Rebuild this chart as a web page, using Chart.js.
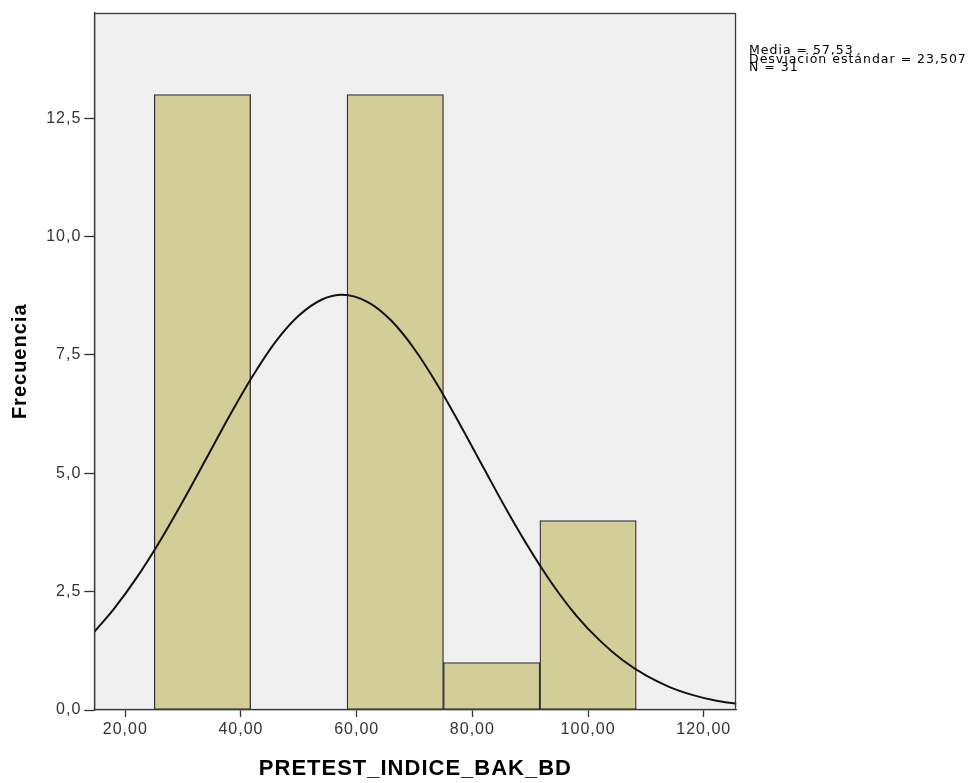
<!DOCTYPE html>
<html>
<head>
<meta charset="utf-8">
<script src="https://cdn.jsdelivr.net/npm/chart.js@4.4.1/dist/chart.umd.min.js"></script>
<style>
  html, body { margin: 0; padding: 0; background: #ffffff; }
  #wrap { position: relative; width: 976px; height: 783px; }
  #stats {
    position: absolute; left: 749px; top: 46px;
    font-family: "DejaVu Sans", sans-serif; font-size: 12.5px;
    line-height: 8.7px; letter-spacing: 1px; color: #000; white-space: pre;
  }
</style>
</head>
<body>
<div id="wrap">
  <canvas id="c" width="976" height="783"></canvas>
  <div id="stats"></div>
</div>
<script>
// ---- data ----
const binEdges = [25, 41.67, 58.33, 75, 91.67, 108.33];
const binCounts = [13, 0, 13, 1, 4];
const curveX = [14.64, 18, 22, 26, 30, 34, 38, 42, 46, 50, 54, 57.5, 62, 66, 70, 74, 78, 82, 86, 90, 94, 98, 102, 106, 110, 114, 118, 122, 125.66];
const curveY = [1.65, 2.13, 2.80, 3.57, 4.42, 5.31, 6.21, 7.05, 7.78, 8.33, 8.67, 8.77, 8.61, 8.22, 7.62, 6.86, 6.00, 5.10, 4.21, 3.38, 2.63, 1.99, 1.47, 1.05, 0.73, 0.49, 0.32, 0.20, 0.13];
const xTickValues = [20, 40, 60, 80, 100, 120];
const yTickValues = [0, 2.5, 5, 7.5, 10, 12.5];
const statsLines = ["Media = 57,53", "Desviación estándar = 23,507", "N = 31"];
const xTitle = "PRETEST_INDICE_BAK_BD";
const yTitle = "Frecuencia";

document.getElementById('stats').textContent = statsLines.join('\n');

const barData = binCounts.map((c, i) => ({ x: (binEdges[i] + binEdges[i + 1]) / 2, y: c }));
const lineData = curveX.map((x, i) => ({ x: x, y: curveY[i] }));

const frame = {
  id: 'frame',
  beforeUpdate(chart) { chart.ctx.letterSpacing = '1px'; },
  beforeDraw(chart) {
    const { ctx, chartArea: a } = chart;
    ctx.letterSpacing = '1px';
    ctx.save();
    ctx.fillStyle = '#f0f0f0';
    ctx.fillRect(a.left, a.top, a.right - a.left, a.bottom - a.top);
    ctx.restore();
  },
  afterDraw(chart) {
    const { ctx, chartArea: a } = chart;
    ctx.save();
    ctx.strokeStyle = '#3c3c3c';
    ctx.lineWidth = 1.3;
    ctx.strokeRect(Math.round(a.left) + 0.5, Math.round(a.top) + 0.5,
                   Math.round(a.right - a.left) - 1, Math.round(a.bottom - a.top) - 1);
    ctx.restore();
  }
};

const fmt = (v, d) => v.toFixed(d).replace('.', ',');

new Chart(document.getElementById('c'), {
  data: {
    datasets: [
      {
        type: 'line', data: lineData, order: 0,
        borderColor: '#111111', borderWidth: 2, pointRadius: 0,
        cubicInterpolationMode: 'monotone', fill: false
      },
      {
        type: 'bar', data: barData, order: 1,
        backgroundColor: '#d3ce98', borderColor: '#2e2e2e', borderWidth: 1.3,
        borderSkipped: false, barPercentage: 1, categoryPercentage: 1
      }
    ]
  },
  options: {
    responsive: false, animation: false,
    layout: { padding: { left: 0, right: 239.5, top: 11.5, bottom: 0 } },
    plugins: { legend: { display: false }, tooltip: { enabled: false } },
    scales: {
      x: {
        type: 'linear', min: 14.64, max: 125.66, offset: false,
        afterBuildTicks: s => { s.ticks = xTickValues.map(v => ({ value: v })); },
        afterFit: s => { s.height = 73; },
        ticks: { callback: v => fmt(v, 2), color: '#333333', padding: 3,
                 font: { family: 'Liberation Sans', size: 16 } },
        grid: { offset: false, drawOnChartArea: false, drawTicks: true, tickLength: 7,
                tickColor: '#333333', tickWidth: 1.3 },
        border: { display: true, color: '#3c3c3c', width: 1.3 },
        title: { display: true, text: xTitle, color: '#000000', padding: { top: 0, bottom: 1 },
                 font: { family: 'Liberation Sans', size: 22, weight: 'bold' } }
      },
      y: {
        type: 'linear', min: 0, max: 14.73,
        afterBuildTicks: s => { s.ticks = yTickValues.map(v => ({ value: v })); },
        afterFit: s => { s.width = 94.3; },
        ticks: { callback: v => fmt(v, 1), color: '#333333', padding: 3,
                 font: { family: 'Liberation Sans', size: 16 } },
        grid: { drawOnChartArea: false, drawTicks: true, tickLength: 10,
                tickColor: '#333333', tickWidth: 1.3 },
        border: { display: true, color: '#3c3c3c', width: 1.3 },
        title: { display: true, text: yTitle, color: '#000000', padding: { top: 8, bottom: 0 },
                 font: { family: 'Liberation Sans', size: 20, weight: 'bold' } }
      }
    }
  },
  plugins: [frame]
});
</script>
</body>
</html>
